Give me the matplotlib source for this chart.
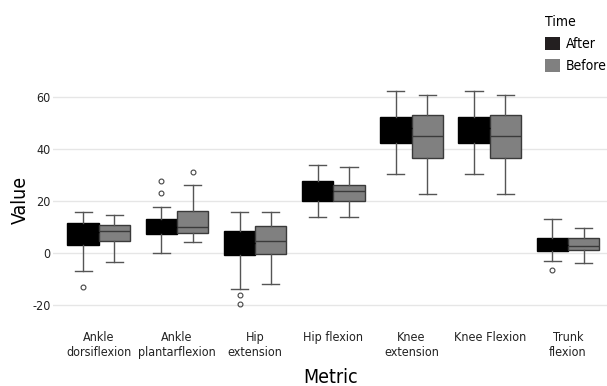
import numpy as np
import matplotlib.pyplot as plt
from matplotlib.patches import Patch

plt.rcParams['font.family'] = ['DejaVu Sans']
plt.rcParams['font.stretch'] = 'condensed'
plt.rcParams['axes.unicode_minus'] = False

metrics = ['Ankle\ndorsiflexion', 'Ankle\nplantarflexion', 'Hip\nextension',
           'Hip flexion', 'Knee\nextension', 'Knee Flexion', 'Trunk\nflexion']

# box statistics, one value per metric
after_whislo = [-7.0, 0.1, -14.0, 14.0, 30.4, 30.4, -2.9]
after_q1 = [3.2, 7.2, -0.6, 20.0, 42.4, 42.4, 0.8]
after_med = [8.0, 10.0, 4.0, 24.0, 48.0, 48.0, 3.0]
after_q3 = [11.5, 13.1, 8.3, 27.7, 52.3, 52.3, 5.9]
after_whishi = [15.6, 17.7, 15.8, 34.0, 62.4, 62.4, 13.2]
after_fliers = [[-13.0], [23.0, 27.8], [-16.0, -19.6], [], [], [], [-6.7]]

before_whislo = [-3.3, 4.2, -12.0, 14.0, 22.6, 22.6, -4.0]
before_q1 = [4.7, 7.8, -0.5, 20.0, 36.7, 36.7, 1.2]
before_med = [8.3, 10.1, 4.6, 23.8, 44.9, 44.9, 2.8]
before_q3 = [10.9, 16.0, 10.4, 26.0, 53.0, 53.0, 5.6]
before_whishi = [14.5, 26.2, 15.8, 33.0, 60.9, 60.9, 9.7]
before_fliers = [[], [31.2], [], [], [], [], []]


def make_stats(lo, q1, med, q3, hi, fl):
    return [dict(whislo=a, q1=b, med=c, q3=d, whishi=e, fliers=f)
            for a, b, c, d, e, f in zip(lo, q1, med, q3, hi, fl)]


fig = plt.figure(figsize=(6.07, 3.86), dpi=100)
ax = fig.add_axes([0.088, 0.176, 0.912, 0.613])

x = np.arange(len(metrics))
ax.set_axisbelow(True)
ax.grid(axis='y', color='#e6e6e6', linewidth=1)

groups = [
    (make_stats(after_whislo, after_q1, after_med, after_q3, after_whishi, after_fliers),
     x - 0.2, '#000000', '#000000'),
    (make_stats(before_whislo, before_q1, before_med, before_q3, before_whishi, before_fliers),
     x + 0.2, '#808080', '#3a3a3a'),
]
for stats, pos, fill, edge in groups:
    ax.bxp(stats, positions=pos, widths=0.4, capwidths=0.22, patch_artist=True,
           boxprops=dict(facecolor=fill, edgecolor=edge, linewidth=1),
           medianprops=dict(color=edge, linewidth=1),
           whiskerprops=dict(color='#555555', linewidth=1),
           capprops=dict(color='#555555', linewidth=1),
           flierprops=dict(marker='o', markersize=3.5, markerfacecolor='none',
                           markeredgecolor='#444444', markeredgewidth=0.8))

ax.set_xlim(-0.58, 6.5)
ax.set_ylim(-25, 66)
ax.set_yticks([-20, 0, 20, 40, 60])
ax.set_xticks(x)
ax.set_xticklabels(metrics)
ax.tick_params(length=0, labelsize=9, colors='#222222', pad=9)
ax.tick_params(axis='y', pad=2)
for s in ax.spines.values():
    s.set_visible(False)
ax.set_xlabel('Metric', fontsize=14, labelpad=7)
ax.set_ylabel('Value', fontsize=14, labelpad=2)

handles = [Patch(facecolor='#231f20', label='After'),
           Patch(facecolor='#808080', label='Before')]
fig.legend(handles=handles, title='Time', loc='upper left',
           bbox_to_anchor=(0.898, 0.96), frameon=False, fontsize=10,
           title_fontsize=10, alignment='left', handlelength=1.1,
           handleheight=1.05, handletextpad=0.4, labelspacing=0.55,
           borderaxespad=0, borderpad=0)

fig.savefig('out.png', dpi=100)
